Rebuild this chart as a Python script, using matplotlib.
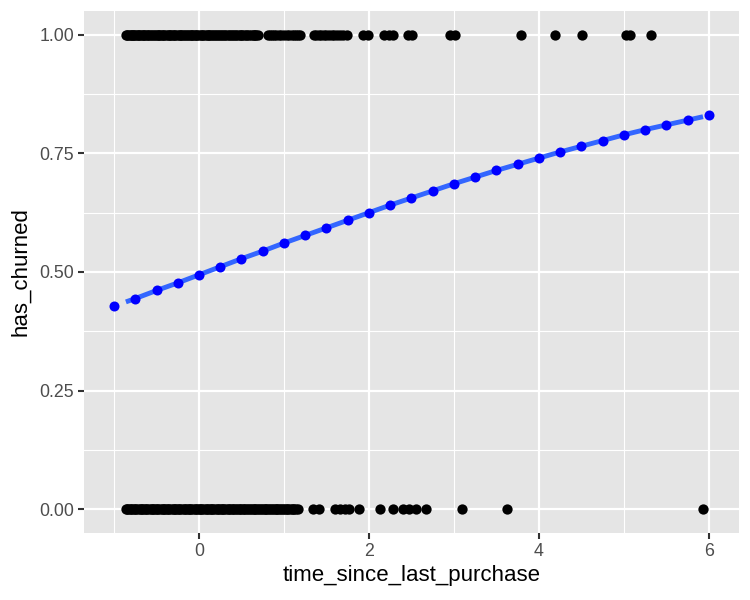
import numpy as np
import matplotlib
matplotlib.use("Agg")
import matplotlib.pyplot as plt
from matplotlib.ticker import MultipleLocator, FormatStrFormatter

plt.rcParams['font.family'] = ['Liberation Sans', 'DejaVu Sans']

# observed customers (black points)
churned_x = [-0.86, -0.845, -0.83, -0.815, -0.80, -0.79, -0.78, -0.765, -0.75, -0.735,
             -0.72, -0.705, -0.69, -0.675, -0.66, -0.645, -0.63, -0.615, -0.60, -0.585,
             -0.57, -0.55, -0.53, -0.515, -0.50, -0.485, -0.47, -0.455, -0.44, -0.425,
             -0.41, -0.39, -0.37, -0.355, -0.34, -0.325, -0.31, -0.295, -0.28, -0.26,
             -0.24, -0.225, -0.21, -0.195, -0.18, -0.16, -0.14, -0.125, -0.11, -0.095,
             -0.08, -0.065, -0.05, -0.035, -0.02, 0.0, 0.02, 0.035, 0.05, 0.07,
             0.09, 0.105, 0.12, 0.135, 0.15, 0.17, 0.19, 0.205, 0.22, 0.24,
             0.26, 0.275, 0.29, 0.31, 0.33, 0.35, 0.37, 0.385, 0.40, 0.42,
             0.44, 0.46, 0.48, 0.495, 0.51, 0.53, 0.55, 0.57, 0.59, 0.61,
             0.63, 0.645, 0.66, 0.675, 0.69,
             0.81, 0.835, 0.86, 0.885, 0.91, 0.94, 0.97, 1.00, 1.03, 1.06,
             1.09, 1.115, 1.14, 1.165, 1.19,
             1.35, 1.38, 1.41, 1.44, 1.47, 1.50, 1.53, 1.56, 1.59, 1.625,
             1.66, 1.70, 1.74,
             1.93, 1.99, 2.18, 2.23, 2.28, 2.46, 2.51, 2.95, 3.01, 3.79, 4.19,
             4.51, 5.02, 5.07, 5.32]
stayed_x = [-0.86, -0.845, -0.83, -0.815, -0.80, -0.785, -0.77, -0.755, -0.74, -0.72,
            -0.70, -0.685, -0.67, -0.655, -0.64, -0.625, -0.61, -0.59, -0.57, -0.555,
            -0.54, -0.525, -0.51, -0.495, -0.48, -0.46, -0.44, -0.425, -0.41, -0.395,
            -0.38, -0.365, -0.35, -0.33, -0.31, -0.295, -0.28, -0.265, -0.25, -0.235,
            -0.22, -0.20, -0.18, -0.165, -0.15, -0.135, -0.12, -0.105, -0.09, -0.07,
            -0.05, -0.035, -0.02, -0.005, 0.01, 0.025, 0.04, 0.06, 0.08, 0.095,
            0.11, 0.125, 0.14, 0.155, 0.17, 0.19, 0.21, 0.225, 0.24, 0.255,
            0.27, 0.285, 0.30, 0.32, 0.34, 0.355, 0.37, 0.385, 0.40, 0.415,
            0.43, 0.45, 0.47, 0.485, 0.50, 0.515, 0.53, 0.545, 0.56, 0.58,
            0.60, 0.615, 0.63, 0.645, 0.66, 0.675, 0.69, 0.71, 0.73, 0.745,
            0.76, 0.775, 0.79, 0.805, 0.82, 0.84, 0.86, 0.875, 0.89, 0.905,
            0.92, 0.935, 0.95, 0.97, 0.99, 1.005, 1.02, 1.035, 1.05, 1.07,
            1.09, 1.105, 1.12, 1.14, 1.16,
            1.34, 1.41, 1.60, 1.66, 1.72, 1.76, 1.88, 2.13, 2.28, 2.40, 2.47,
            2.55, 2.67, 3.10, 3.62, 5.93]

# predicted probabilities (blue points)
pred_x = [-1.0, -0.75, -0.5, -0.25, 0.0, 0.25, 0.5, 0.75, 1.0, 1.25, 1.5, 1.75,
          2.0, 2.25, 2.5, 2.75, 3.0, 3.25, 3.5, 3.75, 4.0, 4.25, 4.5, 4.75,
          5.0, 5.25, 5.5, 5.75, 6.0]
pred_y = [0.428, 0.444, 0.461, 0.477, 0.494, 0.511, 0.528, 0.544, 0.561, 0.577,
          0.593, 0.609, 0.625, 0.641, 0.656, 0.671, 0.686, 0.700, 0.714, 0.727,
          0.740, 0.753, 0.765, 0.777, 0.789, 0.800, 0.810, 0.820, 0.830]

fig = plt.figure(figsize=(7.5, 6), dpi=100)
ax = fig.add_axes([0.112, 0.1117, 0.8733, 0.87])
ax.set_facecolor('#E5E5E5')
for s in ax.spines.values():
    s.set_visible(False)

ax.set_xlim(-1.353, 6.353)
ax.set_ylim(-0.05, 1.05)
ax.xaxis.set_major_locator(MultipleLocator(2))
ax.xaxis.set_minor_locator(MultipleLocator(1))
ax.yaxis.set_major_locator(MultipleLocator(0.25))
ax.yaxis.set_minor_locator(MultipleLocator(0.125))
ax.yaxis.set_major_formatter(FormatStrFormatter('%.2f'))
ax.xaxis.set_major_formatter(FormatStrFormatter('%d'))

ax.grid(which='major', color='white', linewidth=1.6)
ax.grid(which='minor', color='white', linewidth=0.8)
ax.set_axisbelow(True)
ax.tick_params(which='major', length=4, width=1.5, color='#333333',
               labelcolor='#4D4D4D', labelsize=12.8, pad=3)
ax.tick_params(which='minor', length=0)

# black observations
ax.scatter(churned_x, np.ones(len(churned_x)), s=55, color='black', linewidths=0, zorder=3)
ax.scatter(stayed_x, np.zeros(len(stayed_x)), s=55, color='black', linewidths=0, zorder=3)

# smooth line across observed range
lo = min(min(churned_x), min(stayed_x))
hi = max(max(churned_x), max(stayed_x))
px = np.array(pred_x)
py = np.array(pred_y)
inside = (px > lo) & (px < hi)
line_x = np.concatenate([[lo], px[inside], [hi]])
line_y = np.concatenate([[np.interp(lo, px, py)], py[inside], [np.interp(hi, px, py)]])
ax.plot(line_x, line_y, color='#3366FF', linewidth=3.5, solid_capstyle='butt', zorder=4)

ax.scatter(pred_x, pred_y, s=52, color='#0000FF', linewidths=0, zorder=5)

ax.set_xlabel('time_since_last_purchase', fontsize=16, color='black', labelpad=4)
ax.set_ylabel('has_churned', fontsize=16, color='black', labelpad=6)

fig.savefig('out.png', dpi=100)
